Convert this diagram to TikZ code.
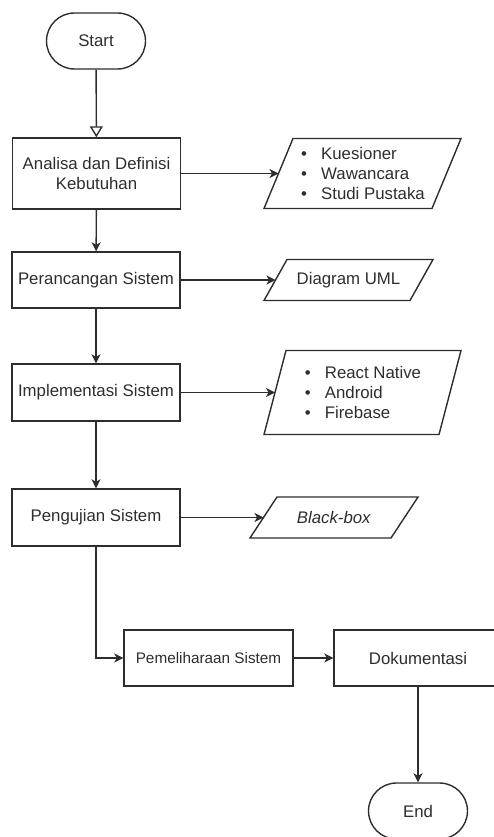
\documentclass[tikz,border=0pt]{standalone}
\usepackage{fontspec}
\setmainfont{Liberation Sans}
\usetikzlibrary{arrows.meta,positioning}
\definecolor{fcdark}{RGB}{45,45,45}
\newcommand{\fcitem}[1]{\makebox[21pt][l]{\hspace{1pt}\textbullet}#1}

\begin{document}
\begin{tikzpicture}[x=1pt,y=-1pt,font=\fontsize{16.8}{20}\selectfont,
      every node/.style={text=fcdark},
      b/.style={draw=fcdark,line width=1.4pt,minimum width=168pt,minimum height=56pt,inner sep=2pt,align=center},
      t/.style={b,minimum width=99pt,rounded corners=28pt},
      io/.style 2 args={minimum width=#1,minimum height=#2,inner sep=0pt,outer sep=0pt,align=left},
      ln/.style={draw=fcdark,line width=1.4pt},
      a/.style={ln,-{Stealth[length=9pt,width=9pt,inset=2.5pt]}}]
      \useasboundingbox (0,0) rectangle (494,837);
      % main column
      \node[t] (start) at (96,41) {Start};
      \node[b,minimum height=71pt] (analisa) at (96.5,173.5) {Analisa dan Definisi\\Kebutuhan};
      \node[b] (rancang) at (96,280) {Perancangan Sistem};
      \node[b,minimum height=57pt] (impl) at (96,392.5) {Implementasi Sistem};
      \node[b,minimum height=57pt] (uji) at (96,517.5) {Pengujian Sistem};
      \node[b,minimum width=169pt,font=\fontsize{15.3}{18}\selectfont] (pelihara) at (208.5,658) {Pemeliharaan Sistem};
      \node[b] (dok) at (418,658) {Dokumentasi};
      \node[t] (end) at (418,811) {End};
      % outputs
      \node[io={197pt}{70pt}] (kebut) at (362.5,173.5) {\fcitem{Kuesioner}\\\fcitem{Wawancara}\\\fcitem{Studi Pustaka}};
      \node[io={169pt}{41pt}] (uml) at (348.5,280) {Diagram UML};
      \node[io={197pt}{84pt}] (tools) at (362.5,392.5) {\fcitem{React Native}\\\fcitem{Android}\\\fcitem{Firebase}};
      \node[io={168pt}{41pt}] (bbox) at (334,517.5) {\textit{Black-box}};
      \foreach \n/\s in {kebut/29,uml/23,tools/22,bbox/27}
        \draw[ln] ([xshift=\s pt]\n.north west) -- (\n.north east) -- ([xshift=-\s pt]\n.south east) -- (\n.south west) -- cycle;
      % connectors
      \draw[ln,-{Triangle[open,length=11pt,width=13pt]}] (start) -- (analisa);
      \draw[a] (analisa) -- (rancang); \draw[a] (rancang) -- (impl); \draw[a] (impl) -- (uji);
      \draw[a] (uji.south) |- (pelihara.west);
      \draw[a] (pelihara) -- (dok); \draw[a] (dok) -- (end);
      \foreach \f/\o/\s in {analisa/kebut/14.5,rancang/uml/11.5,impl/tools/11,uji/bbox/13.5}
        \draw[a] (\f.east) -- ([xshift=\s pt]\o.west);
    \end{tikzpicture}
\end{document}
